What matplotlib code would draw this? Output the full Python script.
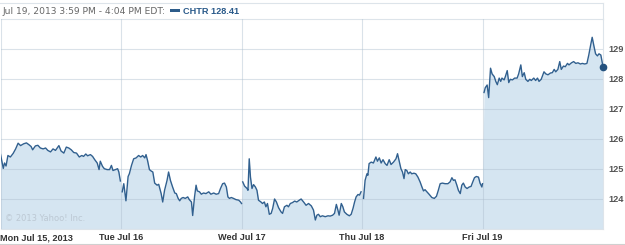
import numpy as np
import matplotlib
matplotlib.use("Agg")
import matplotlib.pyplot as plt

# CHTR intraday, one list per trading day, minutes after the 9:30 open
day_labels = ["Mon Jul 15, 2013", "Tue Jul 16", "Wed Jul 17", "Thu Jul 18", "Fri Jul 19"]

mon_min = [0, 9, 13, 18, 24, 32, 41, 49, 57, 65, 75, 84, 92, 99, 104, 113, 121, 129, 138, 146,
           153, 162, 170, 178, 189, 196, 205, 213, 221, 229, 237, 246, 255, 263, 269, 276, 282,
           291, 298, 305, 313, 319, 323, 330, 336, 345, 353, 359, 364, 372, 379, 383, 388]
mon_px = [125.49, 125.02, 125.2, 125.1, 125.45, 125.4, 125.52, 125.67, 125.86, 125.78, 125.84,
          125.87, 125.81, 125.75, 125.64, 125.77, 125.79, 125.7, 125.67, 125.7, 125.62, 125.57,
          125.67, 125.62, 125.78, 125.6, 125.53, 125.73, 125.7, 125.64, 125.55, 125.53, 125.4,
          125.45, 125.42, 125.5, 125.44, 125.48, 125.42, 125.31, 125.2, 124.98, 125.26, 125.09,
          125.01, 124.98, 124.98, 125.12, 124.95, 124.98, 125.01, 124.9, 124.6]

tue_min = [4, 9, 16, 23, 27, 34, 41, 49, 57, 64, 70, 77, 81, 86, 92, 98, 103, 109, 117, 122,
           130, 135, 141, 149, 154, 160, 167, 174, 179, 185, 190, 195, 201, 208, 216, 221, 228,
           232, 238, 243, 247, 254, 260, 267, 275, 284, 291, 300, 308, 316, 322, 329, 335, 341,
           346, 351, 357, 364, 372, 381, 387, 390]
tue_px = [124.24, 124.51, 123.94, 124.75, 124.84, 125.12, 125.34, 125.37, 125.45, 125.4, 125.45,
          125.37, 125.48, 125.28, 124.98, 124.93, 124.9, 124.53, 124.46, 124.49, 124.18, 123.9,
          124.29, 124.62, 124.9, 124.62, 124.4, 124.2, 124.18, 124.02, 123.94, 124.02, 124.05,
          124.02, 124.07, 123.98, 123.9, 123.45, 124.07, 124.46, 124.27, 124.24, 124.16, 124.2,
          124.18, 124.24, 124.16, 124.2, 124.16, 124.18, 124.35, 124.51, 124.53, 124.4, 124.07,
          124.02, 124.05, 124.02, 123.98, 123.96, 123.9, 123.85]

wed_min = [4, 10, 18, 21, 25, 29, 34, 39, 45, 50, 55, 63, 68, 74, 79, 84, 90, 96, 101, 107,
           113, 120, 128, 133, 139, 147, 152, 158, 165, 172, 179, 187, 193, 201, 209, 217, 226,
           233, 239, 244, 249, 255, 262, 271, 280, 287, 295, 301, 307, 312, 316, 323, 328, 333,
           341, 349, 355, 361, 366, 371, 377, 382, 387]
wed_px = [124.57, 124.43, 124.35, 124.29, 125.34, 124.73, 124.35, 124.48, 124.4, 124.29, 123.96,
          123.9, 123.85, 123.9, 123.74, 123.85, 123.49, 123.52, 123.69, 124.0, 123.9, 123.71,
          123.57, 123.52, 123.74, 123.79, 123.74, 123.85, 123.88, 123.93, 123.9, 123.96, 124.0,
          123.9, 123.79, 123.85, 123.77, 123.63, 123.3, 123.46, 123.49, 123.41, 123.44, 123.41,
          123.44, 123.43, 123.46, 123.52, 123.82, 123.63, 123.46, 123.85, 123.74, 123.57, 123.49,
          123.44, 123.49, 123.69, 123.9, 124.07, 124.15, 124.13, 124.24]

thu_min = [5, 10, 16, 19, 23, 30, 37, 45, 50, 56, 62, 68, 75, 81, 88, 94, 102, 110, 115, 120,
           126, 131, 136, 140, 145, 150, 156, 161, 168, 174, 181, 188, 194, 199, 204, 210, 217,
           226, 234, 241, 247, 253, 260, 269, 278, 285, 291, 296, 301, 307, 312, 318, 323, 328,
           334, 340, 347, 353, 357, 364, 370, 377, 382, 388, 390]
thu_px = [124.02, 124.62, 124.84, 124.79, 125.18, 125.23, 125.2, 125.4, 125.26, 125.37, 125.2,
          125.31, 125.18, 125.12, 125.31, 125.15, 125.23, 125.34, 125.51, 125.28, 125.01, 124.9,
          124.68, 124.98, 124.95, 124.84, 124.9, 124.84, 124.86, 124.84, 124.73, 124.57, 124.4,
          124.27, 124.31, 124.24, 124.16, 124.05, 124.02, 124.09, 124.29, 124.51, 124.53, 124.51,
          124.51, 124.57, 124.71, 124.62, 124.64, 124.46, 124.29, 124.18, 124.46, 124.53, 124.4,
          124.35, 124.4, 124.42, 124.53, 124.71, 124.75, 124.73, 124.53, 124.4, 124.51]

fri_min = [5, 9, 15, 20, 26, 31, 38, 43, 48, 54, 59, 63, 70, 74, 80, 85, 90, 97, 104, 112,
           117, 124, 129, 135, 140, 147, 153, 158, 166, 172, 178, 183, 190, 199, 205, 212, 220,
           226, 232, 237, 244, 250, 255, 262, 268, 275, 280, 288, 295, 302, 309, 317, 323, 331,
           338, 344, 350, 355, 361, 366, 372, 377, 383, 390]
fri_px = [127.55, 127.71, 127.8, 127.38, 128.36, 128.17, 128.08, 127.92, 127.81, 128.03, 127.92,
          128.03, 127.97, 128.08, 128.28, 127.88, 127.99, 127.97, 128.03, 128.03, 128.17, 128.47,
          128.08, 128.21, 127.99, 127.92, 127.99, 127.95, 128.03, 127.95, 128.03, 127.92, 127.99,
          128.24, 128.17, 128.14, 128.2, 128.21, 128.32, 128.24, 128.32, 128.58, 128.32, 128.43,
          128.41, 128.52, 128.47, 128.54, 128.58, 128.52, 128.54, 128.5, 128.52, 128.5, 128.52,
          128.8, 129.13, 129.39, 129.08, 128.84, 128.77, 128.84, 128.8, 128.41]

y_ticks = [124, 125, 126, 127, 128, 129]
header = "Jul 19, 2013 3:59 PM - 4:04 PM EDT:"
legend_text = "CHTR 128.41"

SESSION = 390.0
LINE = "#31608f"
FILL = "#d5e5f1"
GRID = "#dde4ea"
LABEL_FONT = "Liberation Sans"

days = [(mon_min, mon_px), (tue_min, tue_px), (wed_min, wed_px),
        (thu_min, thu_px), (fri_min, fri_px)]

fig = plt.figure(figsize=(6.25, 2.45), dpi=100)
ax = fig.add_axes([0.5 / 625, 1 - 229 / 245, 602.5 / 625, 210 / 245])

all_x, all_y = [], []
for k, (mins, px) in enumerate(days):
    x = k + np.array(mins) / SESSION
    ax.plot(x, px, color=LINE, lw=1.0, zorder=3, solid_joinstyle="round")
    all_x.extend(x)
    all_y.extend(px)

ax.fill_between(all_x, all_y, 123, color=FILL, lw=0, zorder=1)
ax.plot(all_x[-1], all_y[-1], "o", color="#24527f", ms=4.5, zorder=4, clip_on=False)

ax.set_xlim(0, 5)
ax.set_ylim(123, 130)
ax.set_xticks(range(5))
ax.set_xticklabels(day_labels)
ax.set_yticks(y_ticks)
ax.set_yticklabels([str(v) for v in y_ticks])
ax.yaxis.tick_right()
ax.tick_params(length=0)
ax.tick_params(axis="x", pad=3, labelsize=6.6, labelcolor="#333333")
ax.tick_params(axis="y", pad=4, labelsize=6.6, labelcolor="#555555")
for lab in ax.get_xticklabels() + ax.get_yticklabels():
    lab.set_fontweight("bold")
    lab.set_family(LABEL_FONT)
ax.get_xticklabels()[0].set_horizontalalignment("left")

ax.set_axisbelow(False)
ax.grid(True, color="#aebfcf", alpha=0.45, lw=0.8)
for side in ["top", "right", "left", "bottom"]:
    ax.spines[side].set_color(GRID)
    ax.spines[side].set_linewidth(0.8)
ax.spines["left"].set_visible(False)

ax.text(0.008, 0.04, "\u00a9 2013 Yahoo! Inc.", transform=ax.transAxes,
        fontsize=6, color="#bcc8d3", zorder=2)

# header strip and outer frame
fig.add_artist(plt.Line2D([0, 603 / 625], [1 - 3 / 245] * 2, color=GRID, lw=0.8))
fig.add_artist(plt.Line2D([603 / 625] * 2, [1 - 3 / 245, 1 - 19 / 245], color=GRID, lw=0.8))
fig.add_artist(plt.Line2D([0, 1], [1 - 244 / 245] * 2, color="#d0d0d0", lw=0.8))
fig.text(3 / 625, 1 - 11 / 245, header, fontsize=6.6, color="#666666",
         va="center", ha="left")
fig.add_artist(plt.Rectangle((170 / 625, 1 - 12.5 / 245), 10 / 625, 3.5 / 245,
                             color="#2d5c8a", lw=0))
fig.text(183 / 625, 1 - 11 / 245, legend_text, fontsize=6.6, color="#2a5a8a",
         fontweight="bold", family=LABEL_FONT, va="center", ha="left")

fig.savefig("out.png", dpi=100)
